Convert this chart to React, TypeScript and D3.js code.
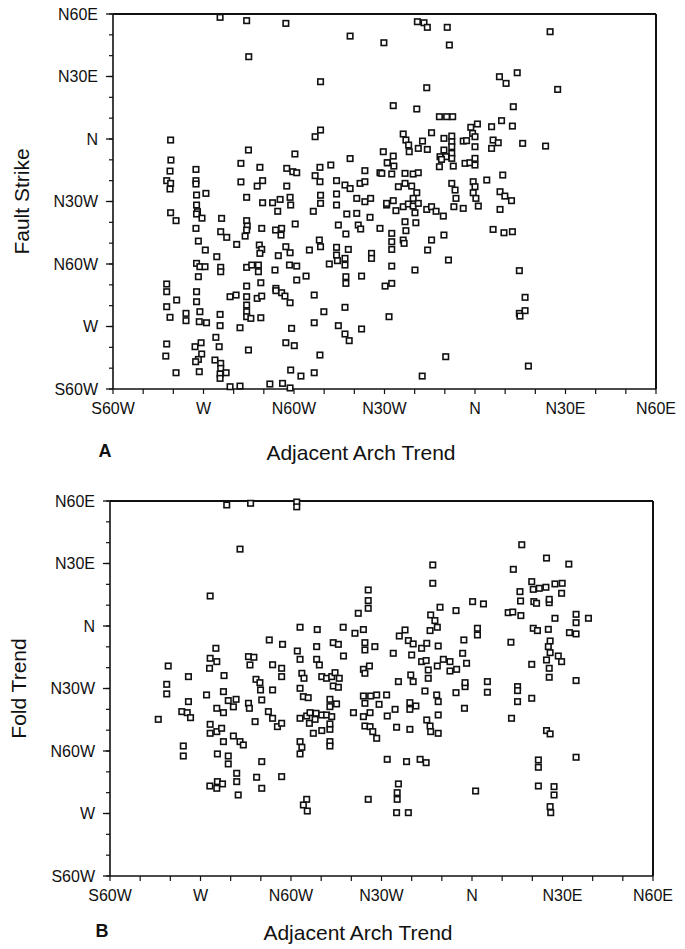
import * as d3 from 'd3';
import React from 'react';

// Azimuth in degrees: negative = west of north, positive = east of north
const tickValues = [-120, -90, -60, -30, 0, 30, 60];
const tickLabels = ['S60W', 'W', 'N60W', 'N30W', 'N', 'N30E', 'N60E'];
const minorTicks = d3.range(-120, 61, 10);

// Panel A: [adjacent arch trend, fault strike]
const faultStrikePoints: [number, number][] = [
  [-84.5,58.4],[-75.7,56.8],[-62.7,55.5],[-41.4,49.4],[-30.2,46.2],[-75,39.5],[-51.2,27.5],[-100.9,-0.5],[-51.2,4.3],[-53,1.1],
  [-75.1,-5.3],[-59.7,-7.2],[-30.4,-6.1],[-100.8,-10.1],[-92.5,-14.6],[-101.1,-15.4],[-102.2,-20],[-100.9,-21.3],[-101.1,-24],[-92.5,-20],
  [-92.5,-21.6],[-77.6,-11.7],[-71.3,-13.6],[-70.4,-20],[-72.2,-22.6],[-77.6,-20.6],[-62.4,-14.1],[-60.4,-15.7],[-59.1,-16.2],[-51.4,-13.6],
  [-53,-17.6],[-51.4,-20.5],[-47.8,-12.5],[-41.4,-9.4],[-36.5,-15.2],[-38.1,-21.3],[-36.5,-20.5],[-45.9,-20],[-43.1,-22.1],[-41.4,-23.8],
  [-31.5,-16.2],[-29,-11.4],[-62.4,-22.6],[-92.3,-26.9],[-89.2,-26.1],[-92.3,-31.7],[-92,-34.9],[-92.3,-36],[-90.5,-38],[-75.7,-28],
  [-70.4,-30.6],[-67.1,-30.6],[-64.6,-29],[-61.3,-28],[-61.1,-31.7],[-65.4,-34.7],[-53.6,-34.7],[-51.2,-27],[-51.2,-30.9],[-45.9,-26.4],
  [-45.9,-31.7],[-39.2,-28.5],[-36.5,-30.1],[-34.6,-28.5],[-42.5,-36],[-39.2,-35.7],[-34.8,-37.6],[-29.3,-31.7],[-100.9,-35.4],[-99.1,-39.2],
  [-92.5,-42.9],[-84,-38.1],[-84.3,-44.5],[-82.3,-47.2],[-79,-50.6],[-75.7,-39.2],[-75.5,-41.8],[-75.7,-43.7],[-76.2,-46.6],[-70.7,-42.9],
  [-66.1,-43.7],[-64.1,-42.9],[-64.3,-46.1],[-59.6,-40.8],[-51.6,-48.5],[-51.2,-51.7],[-45.3,-41.3],[-42.8,-45.6],[-38.7,-41.3],[-37.9,-43.2],
  [-31.5,-42.9],[-91.7,-49],[-89.4,-53.3],[-92.3,-59.7],[-91.2,-61.3],[-89.5,-61.3],[-91.7,-66.1],[-85.6,-56.5],[-84.3,-61.6],[-84.3,-63.7],
  [-71.5,-50.9],[-70.7,-53],[-71.3,-54.9],[-75.7,-61.6],[-74,-60.5],[-71.8,-60.5],[-71.8,-63.7],[-65.2,-56],[-66.3,-62.9],[-62.7,-51.7],
  [-61.3,-54.6],[-61.5,-60.5],[-59.1,-61],[-54.9,-53.3],[-48.3,-60],[-45.9,-52],[-45.9,-55.7],[-45.6,-58.4],[-43.1,-57.3],[-43.1,-60.5],
  [-42,-53],[-42.8,-66.1],[-42.8,-69.3],[-34.3,-54.9],[-34.3,-57.3],[-37.6,-65.8],[-102.2,-69.6],[-75.7,-70.6],[-71,-69],[-59.1,-67.7],
  [-56,-65.8],[-66,-71.7],[-29.8,-70.6],
  [-19.1,56.3],[-16.9,55.8],[-15.8,53.6],[-9.2,53.6],[24.9,51.5],[-8.5,45.1],[8.1,29.9],[10.3,26.7],[14,31.8],[27.4,23.8],
  [-16,24.6],[-27.1,16],[-19.3,14.4],[-11.8,10.7],[-9.4,10.7],[-7.4,10.7],[12.7,15.5],[0.8,7.2],[-1.4,5.6],[-0.8,2.7],
  [0,1.1],[5.5,5.9],[8.8,8.8],[12.4,6.2],[-14.4,3],[-23.8,2.4],[-22.9,-0.5],[-22,-2.9],[-21.8,-6.1],[-17.4,-1],
  [-18.8,-4.5],[-15.8,-5],[-10.3,0.3],[-7.7,1.4],[-7.7,-1.3],[-7.7,-3.7],[-7.7,-6.9],[-7.7,-9.3],[-10.3,-5.3],[-11.6,-8.5],
  [-9.6,-8.5],[-3.9,-1],[-2.8,-0.8],[0,-3.7],[6,-0.5],[7.7,-1.8],[5.5,-4.5],[15.8,-2.1],[23.4,-3.4],[-27.1,-8.2],
  [-29.1,-11.4],[-26.9,-13],[-30.9,-16.5],[-27.6,-16.8],[-23.2,-16.5],[-20.5,-16.8],[-18.8,-16.2],[-11.1,-9.8],[-11.8,-13.3],[-7.2,-13],
  [-3.3,-11.7],[-1.7,-11.4],[0,-12.5],[0,-9.3],[3.9,-19.7],[9.2,-17.3],[-25.4,-22.9],[-23.2,-21.3],[-21,-22.6],[-19.3,-25.8],
  [-20.5,-28.5],[-29.3,-30.9],[-27.1,-29.6],[-26.2,-34.4],[-23.8,-32.5],[-22.1,-31.2],[-20.5,-32.2],[-18.8,-30.9],[-19.9,-35.4],[-16,-33.8],
  [-14.4,-32.5],[-12.9,-34.7],[-10.5,-37],[-23.2,-39.7],[-19.6,-40.2],[-22.9,-44],[-23.8,-48.5],[-23.5,-50.1],[-27.6,-45.3],[-27.6,-49.3],
  [-27.6,-53],[-14.4,-48.5],[-15.7,-53.3],[-10.3,-46.1],[-8.8,-58.1],[-7.7,-21.3],[-6.6,-24.5],[-6.3,-28.5],[-7,-32.5],[-3.9,-33.3],
  [-0.6,-20.5],[0,-22.9],[-0.6,-25.8],[0.3,-28.5],[1.1,-32.2],[8.3,-25.3],[9.9,-27.4],[12.1,-29.6],[8.3,-33.8],[6,-43.4],
  [9.6,-45],[12.4,-44.5],[-27.6,-61],[-19.9,-62.9],[14.7,-63.2],[-27.6,-69.3],
  [-102.2,-73.3],[-102.2,-80.5],[-101.1,-85.6],[-98.9,-77.3],[-92.3,-73.3],[-92.3,-78.1],[-91.2,-82.9],[-91.4,-87.7],[-89,-88.2],[-95.8,-83.7],
  [-95.8,-87.2],[-84.5,-84.2],[-84.5,-89.6],[-81.2,-75.7],[-79.2,-74.9],[-75.7,-75.7],[-75.7,-79.7],[-75.7,-82.9],[-75.7,-85.3],[-74.3,-86.1],
  [-77.9,-90.6],[-72.2,-76.5],[-70.7,-75.4],[-71,-85.8],[-66,-72.8],[-64.1,-73.8],[-63,-75.4],[-61.3,-78.6],[-53.3,-74.9],[-50.1,-82.9],
  [-53.3,-88.2],[-60.8,-90.9],[-43.1,-80.8],[-45.3,-89.6],[-43.1,-93.6],[-41.7,-96.8],[-37.6,-91.2],[-102.2,-98.4],[-102.5,-104.2],[-99.1,-112.2],
  [-92.8,-99.7],[-90.8,-97.8],[-90.6,-103.2],[-91.7,-105.8],[-92.6,-106.9],[-91.4,-111.7],[-86.2,-106.1],[-85.9,-95.2],[-84.8,-99.7],[-84.3,-107.7],
  [-84.3,-110.1],[-84.5,-112.8],[-82.5,-112.2],[-84.5,-114.9],[-75.1,-101.3],[-81.2,-118.9],[-77.9,-118.6],[-68,-117.6],[-63.8,-117.3],[-61.3,-119.5],
  [-62.7,-97.8],[-59.9,-99.2],[-61.1,-110.9],[-57.7,-113.8],[-53.3,-112.2],[-51.4,-103.7],[-28.5,-85.3],
  [16.6,-76],[14.7,-83.7],[16.6,-82.4],[14.9,-85],[-9.7,-104.5],[-17.5,-113.8],[17.7,-109],
];

// Panel B: [adjacent arch trend, fold trend]
const foldTrendPoints: [number, number][] = [
  [-81.3,58.1],[-73.4,58.9],[-58.1,59.5],[-58.1,57.2],[-76.9,36.9],[16.5,39],[24.7,32.6],[32.1,29.7],[-13,29.3],[13.7,27.2],
  [-86.8,14.4],[-34.4,17.3],[-34.4,12.2],[-34.4,8.5],[-37.7,6.1],[-57,-0.6],[-51.3,-1.7],[-42.7,-0.6],[-38.8,-3.5],[-36,-1.7],
  [-35.5,-8],[-35.5,-11.5],[-32.2,-9.9],[-67.2,-6.7],[-62.8,-8.8],[-84.9,-10.7],[-57.9,-12],[-57,-16],[-51.5,-9.9],[-46,-8],
  [-44.3,-8.8],[-42.6,-14.4],[-51.5,-16],[-50.6,-18.7],[-86.8,-15.5],[-84.6,-17.1],[-87,-20.3],[-74.1,-14.7],[-72.3,-15],[-73.6,-18.7],
  [-66.1,-18.6],[-63.1,-20.3],[-63.1,-24.3],[-100.7,-19.2],[-94,-24.3],[-101.2,-28],[-101.2,-32.6],[-82.2,-23.8],[-88,-33.1],[-82.4,-31.5],
  [-80.8,-35.8],[-78.2,-35.2],[-79.1,-38.8],[-84.6,-39.5],[-82.4,-41.6],[-94,-36.3],[-96.2,-41.1],[-94.4,-41.6],[-93.3,-44],[-104,-44.8],
  [-74.1,-37.1],[-73.8,-39.5],[-71.6,-25.6],[-70.3,-27.2],[-70.1,-30.7],[-66.1,-30.7],[-69.7,-35.5],[-67.5,-41.1],[-66.1,-44.3],[-64.5,-48.3],
  [-63.1,-46.7],[-71.9,-45.9],[-57,-29.9],[-55.9,-33.9],[-54.3,-34.4],[-56.4,-22.7],[-55.7,-25.1],[-49.8,-24.3],[-48.2,-25.1],[-46.5,-24.3],
  [-45.4,-22.4],[-44,-25.1],[-46,-28.8],[-44.3,-29.4],[-47.1,-35.2],[-44.9,-37.4],[-47.1,-38.7],[-57,-44.3],[-54.8,-43.2],[-53.7,-41.6],
  [-51.7,-41.9],[-53.9,-46.7],[-52,-44.8],[-49.8,-42.7],[-48.2,-42.7],[-46.5,-43.5],[-52.6,-51.5],[-49.8,-50.2],[-47.1,-49.6],[-47.1,-47],
  [-39.3,-41.6],[-36,-43.5],[-33.8,-41.6],[-35.5,-48],[-33.8,-48.3],[-32.9,-50.7],[-31.6,-53.9],[-36,-33.6],[-35.5,-37.1],[-33.6,-33.6],
  [-31.6,-33.1],[-28.3,-33.1],[-30.8,-37.6],[-36,-20.8],[-35.5,-22.7],[-34,-19.2],[-86.8,-47.2],[-86.8,-51.5],[-84.6,-50.7],[-83,-49.1],
  [-82.4,-55.5],[-79.1,-52.8],[-76.9,-55.5],[-75.8,-57.1],[-57,-55.5],[-56.4,-58.2],[-57,-61.4],[-47.1,-55.5],[-47.1,-57.6],[-95.7,-57.6],
  [-95.7,-62.4],[-84.4,-61.4],[-80.8,-62.4],[-80.8,-66.2],[-69.7,-65.1],
  [-13,20.5],[19.8,21.3],[20.3,17.6],[22.3,18.1],[24.5,18.6],[27.5,20.2],[29.9,20.5],[29.7,15.7],[15.9,16.5],[16.1,12],
  [20.5,11.7],[21.4,10.9],[25.6,11.2],[25.6,12.8],[-10.6,9],[-5.3,7.4],[0.2,11.7],[3.8,10.6],[12,6.4],[13.5,6.7],
  [16.2,5],[27.5,3.7],[34.5,5.6],[34.5,1.6],[38.6,3.7],[-13.7,5.3],[-12.3,2.6],[-11.5,-0.6],[-13.9,-2.2],[-22.2,-1.9],
  [-24.1,-4.8],[-21.1,-7],[-19.5,-8.6],[-16.7,-10.7],[-15,-8.3],[-11.2,-9.6],[-26.1,-13.1],[-20,-13.9],[-16.7,-17.1],[-15.2,-16.6],
  [-9.5,-16],[-7.3,-17.1],[-11.5,-19.2],[-7.3,-21.6],[-5.1,-20.8],[-1.8,-17.9],[-3.1,-13.1],[-2.7,-6.7],[1.8,-1.1],[1.8,-4.3],
  [12.9,-7.8],[20.3,-1.1],[21.7,-2.2],[25.3,-1.6],[32.3,-3.2],[34.5,-3.8],[25.9,-7.2],[25.3,-9.9],[25.9,-12.8],[24.7,-16.3],
  [28.6,-14.4],[29.7,-17.1],[19.8,-18.4],[25.6,-20.3],[25.6,-24.6],[34.5,-26.2],[-14.5,-21.1],[-14.5,-25.1],[-20.3,-23.5],[-19.5,-26.7],
  [-24.4,-26.7],[-15.6,-31.2],[-11.7,-33.1],[-11.2,-36.3],[-5.3,-32],[-2.3,-29.1],[-2.3,-27.2],[5.1,-26.7],[5.1,-31.8],[15.1,-29.1],
  [15.1,-31],[15.1,-36.3],[19.8,-34.7],[-20.6,-36.8],[-18.6,-38.4],[-20.6,-40],[-25.5,-40],[-28.1,-43.2],[-2.5,-39.5],[13.1,-44.3],
  [-15,-45.1],[-13.9,-48],[-13.7,-50.7],[-11.2,-51.5],[-11.2,-42.7],[-25,-48.6],[-20.6,-49.6],[24.7,-50.2],[25.9,-51.8],[-28.1,-64],
  [-21.7,-65.1],[-17.2,-64],[-15.2,-65.6],[22,-64.3],[22,-67.8],[34.5,-63],
  [-78,-70.7],[-78,-74.7],[-84.4,-74.7],[-82.7,-75.8],[-86.9,-76.8],[-84.6,-77.9],[-77.5,-81.1],[-71.4,-72.6],[-69.7,-77.9],[-63.1,-72.3],
  [-54.8,-83.2],[-55.9,-85.9],[-54.6,-88.8],[-34.4,-83.2],
  [-24.4,-75.8],[-24.8,-80],[-24.8,-83.2],[-25,-89.6],[-21.1,-89.6],[1.2,-79.2],[22,-76.8],[27.2,-77.1],[27.2,-81.1],[25.9,-86.7],
  [26.1,-89.6],
];

const FONT = '"Liberation Sans", Arial, Helvetica, sans-serif';

function Panel({ points, left, top, yTitle, letter, titleGap }: {
  points: [number, number][]; left: number; top: number; yTitle: string; letter: string; titleGap: number;
}) {
  const w = 543;
  const h = 375;
  const x = d3.scaleLinear().domain([-120, 60]).range([0, w]);
  const y = d3.scaleLinear().domain([-120, 60]).range([h, 0]);
  const size = 5.5;

  return (
    <g transform={`translate(${left},${top})`} fontFamily={FONT} fill="#111">
      {/* frame */}
      <line x1={w} x2={w} y1={0} y2={h} stroke="#111" strokeWidth={2} />
      <line x1={0} x2={w} y1={0} y2={0} stroke="#111" strokeWidth={2} />
      <line x1={0} x2={0} y1={0} y2={h} stroke="#111" strokeWidth={1.6} />
      <line x1={0} x2={w} y1={h} y2={h} stroke="#111" strokeWidth={1.6} />

      {/* minor ticks */}
      {minorTicks.map(t => (
        <g key={'m' + t}>
          <line x1={-4} x2={0} y1={y(t)} y2={y(t)} stroke="#111" strokeWidth={1.2} />
          <line x1={x(t)} x2={x(t)} y1={h} y2={h + 5} stroke="#111" strokeWidth={1.2} />
        </g>
      ))}

      {/* labelled ticks */}
      {tickValues.map((t, i) => (
        <g key={'t' + t}>
          <line x1={-7} x2={0} y1={y(t)} y2={y(t)} stroke="#111" strokeWidth={1.3} />
          <text x={-15} y={y(t)} dy="0.36em" textAnchor="end" fontSize={16}>{tickLabels[i]}</text>
          <text x={x(t)} y={h + 25} textAnchor="middle" fontSize={16}>{tickLabels[i]}</text>
        </g>
      ))}

      {/* points */}
      {points.map((p, i) => (
        <rect key={i} x={x(p[0]) - size / 2} y={y(p[1]) - size / 2} width={size} height={size}
          fill="#fff" stroke="#111" strokeWidth={1.6} />
      ))}

      <text transform={`translate(${-84},${h / 2}) rotate(-90)`} textAnchor="middle" fontSize={21}>{yTitle}</text>
      <text x={248} y={h + titleGap} textAnchor="middle" fontSize={21}>Adjacent Arch Trend</text>
      <text x={-8} y={h + titleGap - 3} textAnchor="middle" fontSize={18} fontWeight="bold">{letter}</text>
    </g>
  );
}

export default function App() {
  return (
    <svg width={685} height={949} style={{ position: 'absolute', left: 0, top: 0, background: '#fff' }}>
      <rect width={685} height={949} fill="#fff" />
      <Panel points={faultStrikePoints} left={113} top={14} yTitle="Fault Strike" letter="A" titleGap={71} />
      <Panel points={foldTrendPoints} left={110} top={501} yTitle="Fold Trend" letter="B" titleGap={64} />
    </svg>
  );
}
